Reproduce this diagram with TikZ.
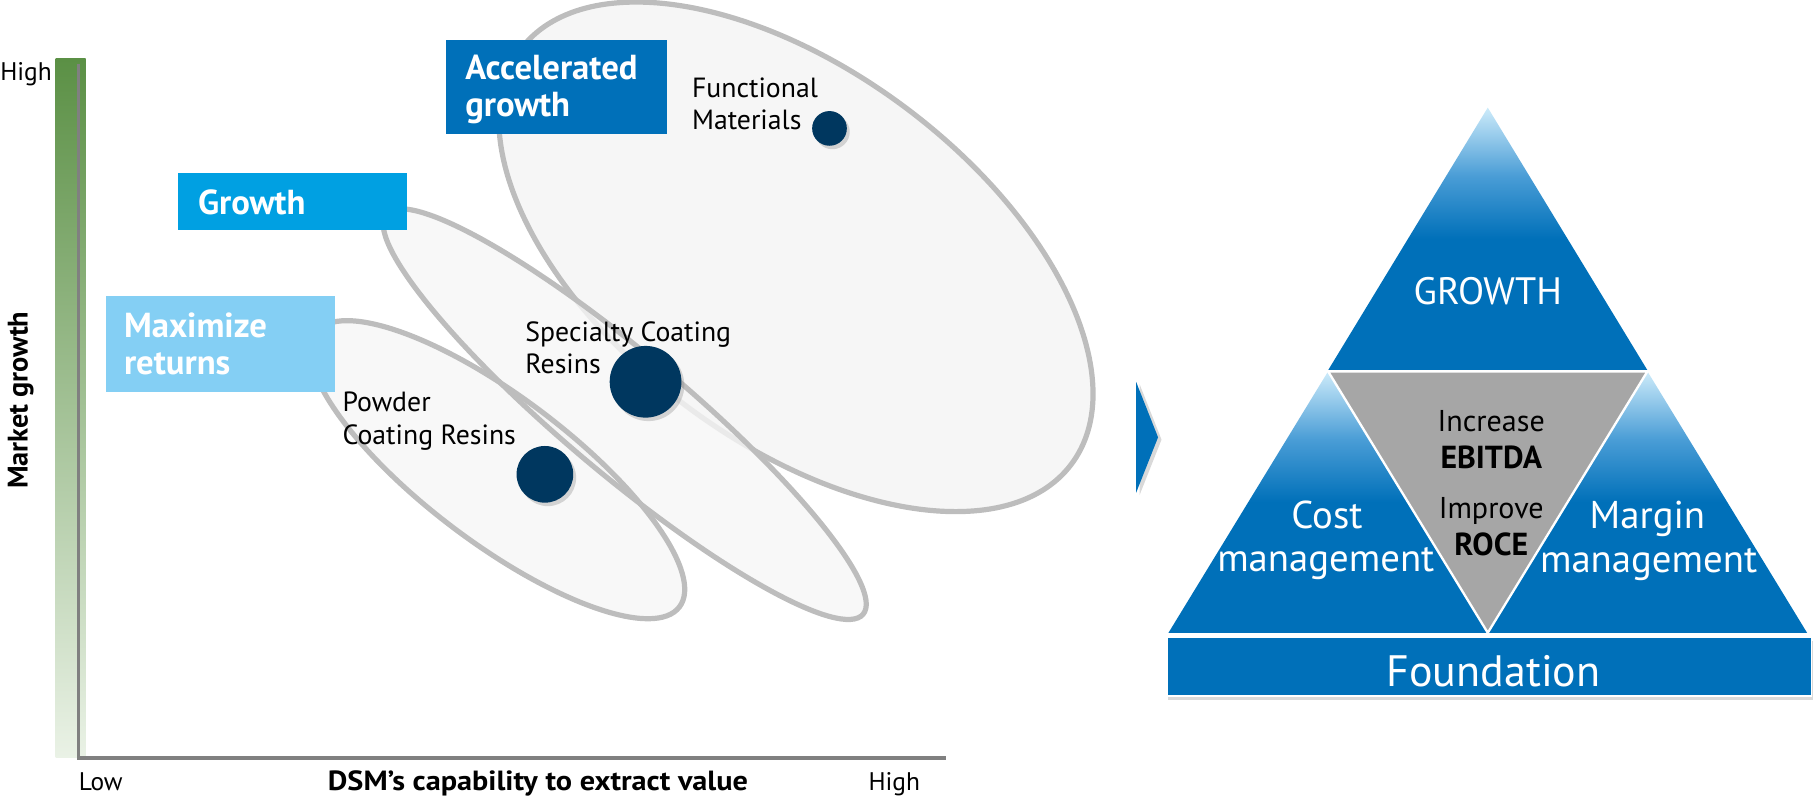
\documentclass[tikz,border=0pt]{standalone}
\usepackage{fontspec}
\setmainfont{PT Sans}
\usetikzlibrary{shadows}
\definecolor{ellfill}{HTML}{F6F6F6}
\definecolor{ellline}{HTML}{BDBDBD}
\definecolor{navy}{HTML}{00375F}
\definecolor{dsmblue}{HTML}{0070B9}
\definecolor{cyanbox}{HTML}{00A0E2}
\definecolor{lightbox}{HTML}{84CFF4}
\definecolor{axisgray}{HTML}{808080}
\definecolor{greentop}{HTML}{5B9045}
\definecolor{greenbot}{HTML}{EAF2E6}
\definecolor{plight}{HTML}{CDEBFA}
\definecolor{pmid}{HTML}{4A9DD6}
\definecolor{graytri}{HTML}{A6A6A6}
\pgfdeclareverticalshading{pyr}{100bp}{color(0bp)=(dsmblue); color(25bp)=(dsmblue); color(50bp)=(dsmblue); color(62bp)=(pmid); color(75bp)=(plight); color(100bp)=(plight)}
\begin{document}
\begin{tikzpicture}[x=1pt,y=-1pt,
  ell/.style={draw=ellline, line width=4.5pt, fill=ellfill},
  ellline/.style={draw=ellline, line width=4.5pt},
  bubble/.style={circle, fill=navy, inner sep=0pt, drop shadow={shadow xshift=2.5pt, shadow yshift=-3pt, opacity=0.3}},
  catbox/.style={rectangle, inner sep=0pt, anchor=north west},
  boxtxt/.style={anchor=base west, inner sep=0pt, text=white, font=\bfseries\fontsize{30}{34}\selectfont},
  lbl/.style={anchor=base west, inner sep=0pt, font=\fontsize{24}{28}\selectfont},
  axlbl/.style={inner sep=0pt, font=\fontsize{22}{26}\selectfont},
  axis/.style={draw=axisgray, line width=3pt},
  ptxt/.style={anchor=base, inner sep=0pt, text=white, font=\fontsize{33.5}{38}\selectfont},
  ctxt/.style={anchor=base, inner sep=0pt, text=black, font=\fontsize{26}{30}\selectfont},
  ctxtb/.style={anchor=base, inner sep=0pt, text=black, font=\bfseries\fontsize{27.5}{31}\selectfont}
]
\useasboundingbox (0,0) rectangle (1568,690);

% ---------- axes ----------
\shade[top color=greentop, bottom color=greenbot] (48,51) rectangle (74,655);
\draw[axis] (68,55) -- (68,655) -- (818,655);
\node[axlbl, anchor=base east] (yhigh) at (45,70) {High};
\node[axlbl, anchor=base west] (xlow) at (68,683) {Low};
\node[axlbl, anchor=base, font=\bfseries\fontsize{24}{28}\selectfont] (xlab) at (465,683) {\scalebox{1.09}[1]{DSM’s capability to extract value}};
\node[axlbl, anchor=base] (xhigh) at (773,683) {High};
\node[inner sep=0pt, rotate=90, font=\bfseries\fontsize{24.5}{28}\selectfont] (ylab) at (18,346) {Market growth};

% ---------- ellipses ----------
\path[ell, rotate around={-37:(688,222)}] (688,222) ellipse [x radius=298, y radius=160];
\fill[ellfill, fill opacity=0.8, rotate around={-40:(540,358)}] (540,358) ellipse [x radius=269, y radius=52];
\fill[ellfill, fill opacity=0.8, rotate around={-37:(430,406)}] (430,406) ellipse [x radius=197, y radius=63];
\draw[ellline, rotate around={-40:(540,358)}] (540,358) ellipse [x radius=269, y radius=52];
\draw[ellline, rotate around={-37:(430,406)}] (430,406) ellipse [x radius=197, y radius=63];

% ---------- bubbles ----------
\node[bubble, minimum size=30pt] (fm) at (717,111) {};
\node[bubble, minimum size=62pt] (sc) at (558,330) {};
\node[bubble, minimum size=49pt] (pc) at (471,410) {};

\node[lbl] (fm1) at (598,84) {Functional};
\node[lbl] (fm2) at (598,112) {Materials};
\node[lbl] (sc1) at (454,295) {Specialty Coating};
\node[lbl] (sc2) at (454,323) {Resins};
\node[lbl] (pc1) at (296,356) {Powder};
\node[lbl] (pc2) at (296,384) {Coating Resins};

% ---------- category boxes ----------
\node[catbox, fill=dsmblue, minimum width=191pt, minimum height=82pt] (accbox) at (385,34) {};
\node[boxtxt] (acc1) at (402,69) {Accelerated};
\node[boxtxt] (acc2) at (402,101) {growth};
\node[catbox, fill=cyanbox, minimum width=198pt, minimum height=50pt] (grbox) at (154,149) {};
\node[boxtxt] (gr1) at (171,185) {Growth};
\node[catbox, fill=lightbox, minimum width=198pt, minimum height=83pt] (mxbox) at (91,256) {};
\node[boxtxt] (mx1) at (107,292) {Maximize};
\node[boxtxt] (mx2) at (107,324) {returns};

% ---------- chevron ----------
\fill[dsmblue, drop shadow={shadow xshift=3pt, shadow yshift=-2pt, opacity=0.3}] (982,330) -- (1001,378) -- (982,426) -- cycle;

% ---------- pyramid ----------
\shade[shading=pyr] (1286,93) -- (1148,320) -- (1424,320) -- cycle;
\shade[shading=pyr] (1148,321) -- (1010,547) -- (1286,547) -- cycle;
\shade[shading=pyr] (1424,321) -- (1286,547) -- (1562,547) -- cycle;
\filldraw[fill=graytri, draw=white, line width=2pt] (1148,321) -- (1424,321) -- (1286,547) -- cycle;
\node[catbox, fill=dsmblue, draw=white, line width=1.5pt, minimum width=557pt, minimum height=51pt, drop shadow={shadow xshift=1pt, shadow yshift=-3pt, opacity=0.3}] (fnbox) at (1008,550) {};

\node[ptxt, font=\fontsize{33}{38}\selectfont] (growth) at (1286,263) {GROWTH};
\node[ptxt] (cost1) at (1147,456.5) {Cost};
\node[ptxt] (cost2) at (1146,494) {management};
\node[ptxt] (mar1) at (1424,456.5) {Margin};
\node[ptxt] (mar2) at (1425,495) {management};
\node[ctxt] (inc) at (1289,373) {Increase};
\node[ctxtb] (ebitda) at (1289,405) {EBITDA};
\node[ctxt] (imp) at (1289,448) {Improve};
\node[ctxtb] (roce) at (1289,480) {ROCE};
\node[ptxt, font=\fontsize{38}{42}\selectfont] (found) at (1291,593.5) {Foundation};
\end{tikzpicture}
\end{document}
